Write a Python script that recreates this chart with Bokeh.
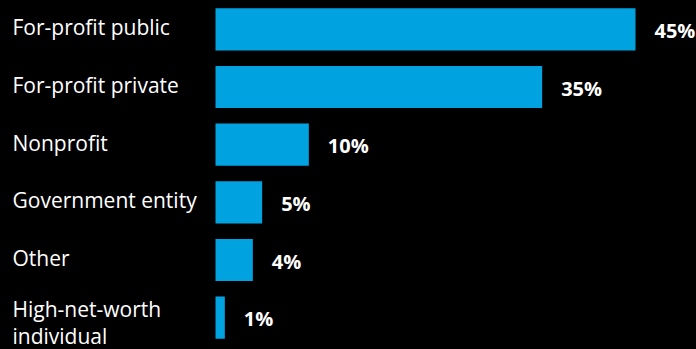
from bokeh.plotting import figure
from bokeh.models import ColumnDataSource, FactorRange, Range1d
from bokeh.core.properties import value
from bokeh.embed import file_html
from bokeh.resources import INLINE

categories = ["For-profit public", "For-profit private", "Nonprofit",
              "Government entity", "Other", "High-net-worth\nindividual"]
shares = [45, 35, 10, 5, 4, 1]
share_labels = ["45%", "35%", "10%", "5%", "4%", "1%"]

W, H = 696, 349
bar_left_px = 215
px_per_unit = 9.333
x_start = -bar_left_px / px_per_unit
x_end = (W - bar_left_px) / px_per_unit

p = figure(width=W, height=H, output_backend="svg", toolbar_location=None,
           y_range=FactorRange(factors=list(reversed(categories)), range_padding=0),
           x_range=Range1d(x_start, x_end),
           background_fill_color="black", border_fill_color="black",
           min_border_left=0, min_border_right=0, min_border_top=0, min_border_bottom=3,
           outline_line_color=None)
p.axis.visible = False
p.grid.visible = False

src = ColumnDataSource(dict(cat=categories, val=shares, lab=share_labels))

p.hbar(y="cat", left=0, right="val", height=0.73, source=src,
       fill_color="#00A3E0", line_color=None)

# category labels, one text per line
line_cat, line_txt, line_off = [], [], []
for c in categories:
    parts = c.split("\n")
    if len(parts) == 1:
        offs = [-2.0]
    else:
        offs = [-9.0 + 27.0 * i for i in range(len(parts))]
    for t, o in zip(parts, offs):
        line_cat.append(c)
        line_txt.append(t)
        line_off.append(o)
lsrc = ColumnDataSource(dict(cat=line_cat, txt=line_txt, off=line_off,
                             x=[x_start + 12 / px_per_unit] * len(line_cat)))
p.text(x="x", y="cat", text="txt", source=lsrc, y_offset="off",
       text_font=value("Open Sans"), text_font_size="21px",
       text_color="white", text_baseline="middle", text_align="left")

p.text(x="val", y="cat", text="lab", source=src, x_offset=19, y_offset=1,
       text_font=value("Open Sans"), text_font_size="20px", text_font_style="bold",
       text_color="white", text_baseline="middle", text_align="left")

html = file_html(p, INLINE)
html = html.replace("<head>", "<head><style>html,body{margin:0;padding:0;background:#000;}</style>", 1)
open("out.html", "w").write(html)
